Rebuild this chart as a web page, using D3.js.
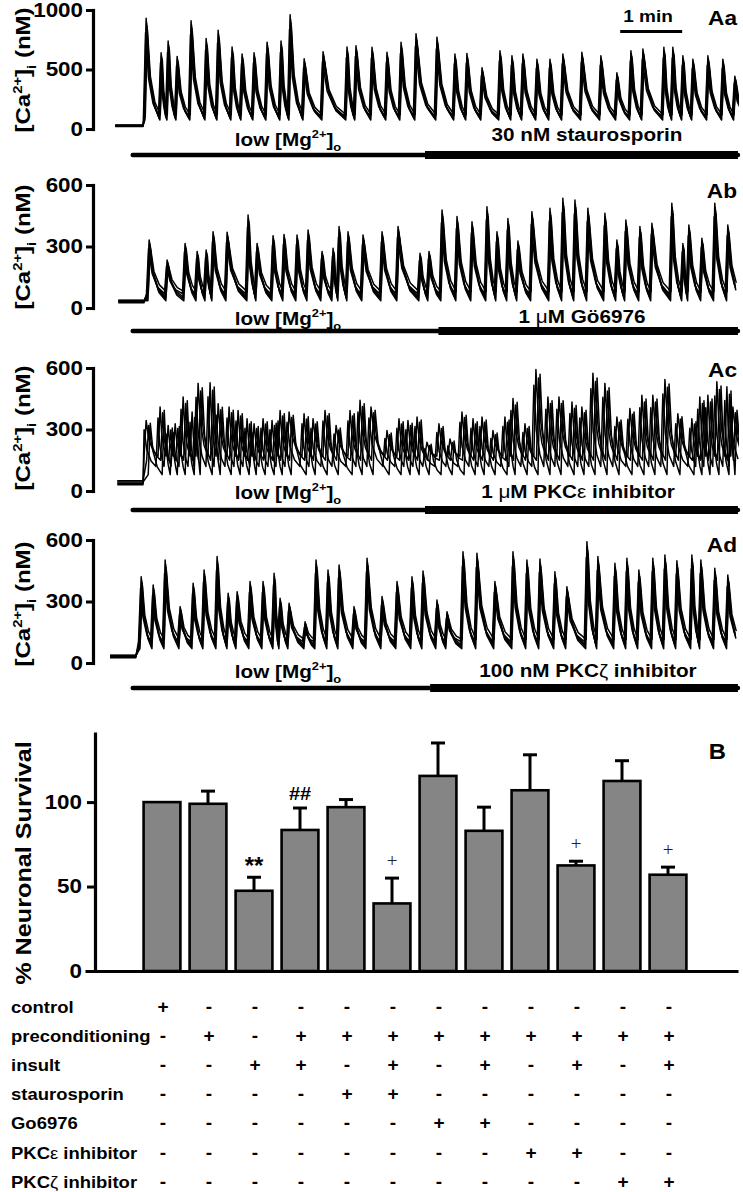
<!DOCTYPE html>
<html><head><meta charset="utf-8">
<script src="https://cdn.jsdelivr.net/npm/d3@7"></script>
<style>
body{margin:0;background:#fff}
svg{display:block}
text{font-family:"Liberation Sans",Arial,sans-serif;font-weight:bold;fill:#000}
</style>
</head><body>
<svg id="c" width="743" height="1192"></svg>
<script>
// ---------------- DATA ----------------
// Panel A traces: peak times (s) and peak [Ca2+]i (nM)
const aaPeakT = [30.0,44.5,51.3,60.0,73.5,88.1,99.7,113.2,122.9,134.5,147.1,160.6,169.4,183.0,201.3,224.5,233.2,248.7,263.2,276.8,291.3,311.6,329.0,340.6,355.2,372.6,384.2,394.8,408.4,421.0,433.5,451.9,470.3,485.8,499.4,511.0,531.3,540.0,549.7,559.4,573.9,588.4,600.0];
const aaPeakV = [930,640,740,610,910,760,830,690,630,640,730,740,960,590,650,690,700,686,644,729,800,772,630,635,515,658,615,630,587,587,630,644,615,473,658,672,686,686,615,587,615,587,444];
const aaTrough = 95, aaBase = 25;

const abPeakT = [32.9,50.3,67.7,79.4,88.1,94.8,108.4,128.7,137.4,152.9,163.5,176.1,186.8,200.3,211.0,216.8,225.5,240.0,258.4,273.9,295.2,303.9,316.5,331.0,345.5,360.0,369.7,380.3,390.0,403.5,421.0,433.5,445.2,457.7,474.2,485.8,494.5,508.1,519.7,539.0,549.7,555.5,568.1,580.6,593.2];
const abPeakV = [332,234,315,276,283,372,369,454,315,353,359,356,380,276,291,397,372,356,372,397,267,276,478,446,421,494,372,437,327,470,486,535,527,486,462,332,429,397,413,511,315,405,340,511,405];
const abTrough = 55, abBase = 30;

const acPeakT = [30.0,43.5,51.3,58.1,65.8,74.5,80.3,91.9,99.7,110.3,119.0,127.7,134.5,143.2,151.9,159.7,168.4,182.9,191.6,203.2,213.9,227.4,237.1,247.7,263.2,274.8,283.5,292.3,301.9,313.5,324.2,335.8,346.5,355.2,365.8,377.4,385.2,396.8,407.4,419.0,429.7,442.3,451.9,462.6,474.2,485.8,498.4,510.0,520.6,532.3,544.8,558.4,566.1,573.9,582.6,592.3,598.1];
const acPeakV = [344,410,320,328,459,385,525,528,426,410,393,352,328,352,344,393,385,377,352,393,320,393,443,410,295,352,344,361,238,328,254,385,352,361,295,361,451,328,593,459,459,434,410,574,525,361,402,467,467,544,377,352,459,467,533,508,410];
const acTrough = 150, acBase = 38;

const adPeakT = [25.2,36.8,48.4,62.9,75.5,86.1,98.7,109.4,118.1,130.6,143.2,153.9,159.7,168.4,183.9,194.5,206.1,216.8,231.3,243.9,258.4,272.9,287.4,298.1,311.6,321.3,336.8,350.3,367.7,385.2,398.7,411.3,425.8,437.4,456.8,467.4,483.9,495.5,507.1,520.6,532.3,543.9,558.4,567.1,580.6,593.2];
const adPeakV = [421,380,502,275,389,454,519,340,348,397,397,438,316,291,201,502,454,478,275,511,324,397,421,449,307,250,543,535,397,543,502,507,445,372,592,519,486,511,454,511,527,499,527,502,462,429];
const adTrough = 90, adBase = 30;

// overlaid cells (per-trace gain, time shift in s, trough offset nM, baseline offset nM)
const cellGain       = [1.00, 0.93, 0.87, 0.96, 0.90];
const cellShift      = [0, 0.8, -0.6, 0.4, 1.2];
const cellTroughOff  = [0, -20, 15, -10, 25];
const cellBaseOff    = [0, 6, -4, 3, 8];
const acCellShift    = [0, 2.5, -2.0, 4.0];
const acCellTroughOff= [20, 0, -30, -70];

// treatment timing (s)
const lowMgStart = 17, traceEnd = 603;
const drugStart = [300, 313, 300, 305];
const panelNames = ["Aa","Ab","Ac","Ad"];
const drugLabels = ["30 nM staurosporin","1 \u03bcM G\u00f66976","1 \u03bcM PKC\u03b5 inhibitor","100 nM PKC\u03b6 inhibitor"];
const scaleBarT = [489, 549];

// Panel B
const groups = ["1","2","3","4","5","6","7","8","9","10","11","12"];
const survival    = [100, 99, 47.5, 83.5, 97, 40, 115.5, 83, 107, 62.5, 112.5, 57];
const survivalErr = [0, 7.5, 8, 13, 4.5, 15, 19.5, 14, 21, 2.5, 12, 4.5];
const sigMarks    = ["", "", "**", "##", "", "+", "", "", "", "+", "", "+"];
const rowLabels = ["control","preconditioning","insult","staurosporin","Go6976","PKC\u03b5 inhibitor","PKC\u03b6 inhibitor"];
const rowSigns = [
  ["+","-","-","-","-","-","-","-","-","-","-","-"],
  ["-","+","-","+","+","+","+","+","+","+","+","+"],
  ["-","-","+","+","-","+","-","+","-","+","-","+"],
  ["-","-","-","-","+","+","-","-","-","-","-","-"],
  ["-","-","-","-","-","-","+","+","-","-","-","-"],
  ["-","-","-","-","-","-","-","-","+","+","-","-"],
  ["-","-","-","-","-","-","-","-","-","-","+","+"]
];

// ---------------- DRAWING ----------------
const svg = d3.select("#c");
const SX = 1.12;

function label(g, x, y, parts, o) {
  o = o || {};
  const fs = o.fs || 18;
  const t = g.append("text")
    .attr("transform", `translate(${x},${y})${o.rotate ? " rotate(-90)" : ""} scale(${o.sx || SX},1)`)
    .attr("text-anchor", o.anchor || "middle")
    .style("font-size", fs + "px");
  if (o.serif) t.style("font-family", '"Liberation Serif","Times New Roman",serif').style("font-weight", "normal").style("fill", "#222");
  let shift = 0;
  parts.forEach(p => {
    const [str, type] = Array.isArray(p) ? p : [p, "n"];
    const s = t.append("tspan").text(str);
    let target = 0;
    if (type === "sup") { s.style("font-size", (fs * 0.62) + "px"); target = -0.42 * fs; }
    else if (type === "sub") { s.style("font-size", (fs * 0.62) + "px"); target = 0.28 * fs; }
    else if (type === "sym") { s.style("font-weight", "normal"); }
    s.attr("dy", target - shift);
    shift = target;
  });
  return t;
}

const xT = d3.scaleLinear().domain([-5, 605]).range([110, 740]);

const panels = [
  {peakT: aaPeakT, peakV: aaPeakV, trough: aaTrough, base: aaBase, start: 0, onset: 27, max: 1000, ticks: [0,500,1000], y0: 129, y1: 10, barY: 155, textY: 146, drugTextY: 141, nameY: 25, labelY: 70, cells: 5},
  {peakT: abPeakT, peakV: abPeakV, trough: abTrough, base: abBase, start: 3, onset: 28, max: 600, ticks: [0,300,600], y0: 308, y1: 185, barY: 331, textY: 325, drugTextY: 323, nameY: 198, labelY: 247, cells: 5},
  {peakT: acPeakT, peakV: acPeakV, trough: acTrough, base: acBase, start: 2, onset: 27, max: 600, ticks: [0,300,600], y0: 491, y1: 368, barY: 510, textY: 499, drugTextY: 498, nameY: 377, labelY: 428, cells: 4, ac: true},
  {peakT: adPeakT, peakV: adPeakV, trough: adTrough, base: adBase, start: -5, onset: 20, max: 600, ticks: [0,300,600], y0: 663, y1: 540, barY: 688, textY: 678, drugTextY: 677, nameY: 552, labelY: 604, cells: 5}
];

svg.append("defs").append("clipPath").attr("id", "clipT")
  .append("rect").attr("x", 105).attr("y", 0).attr("width", 634).attr("height", 1192);

function traceData(P, k) {
  const g = cellGain[k];
  const s = P.ac ? acCellShift[k] : cellShift[k];
  const tr = P.trough + (P.ac ? acCellTroughOff[k] : cellTroughOff[k]);
  const b = P.base + cellBaseOff[k] * (P.ac ? 2 : 1);
  const pts = [[P.start, b], [P.onset, b]];
  const n = P.peakT.length;
  for (let i = 0; i < n; i++) {
    const t = P.peakT[i] + s;
    const p = Math.max(tr + 25, P.peakV[i] * g);
    const next = i < n - 1 ? P.peakT[i + 1] + s : t + 14;
    const gap = next - t;
    pts.push([Math.max(t - 2, P.onset + 0.3), tr]);
    pts.push([t, p]);
    pts.push([t + 0.2 * gap, tr + 0.45 * (p - tr)]);
    pts.push([t + 0.5 * gap, tr + 0.15 * (p - tr)]);
  }
  return pts;
}

panels.forEach((P, pi) => {
  const y = d3.scaleLinear().domain([0, P.max]).range([P.y0, P.y1]);
  const g = svg.append("g");
  // axis
  const ax = g.append("g").attr("transform", "translate(93,0)")
    .call(d3.axisLeft(y).tickValues(P.ticks).tickFormat(d3.format("d")).tickSize(7).tickSizeOuter(0).tickPadding(3));
  ax.select(".domain").attr("stroke", "#000").attr("stroke-width", 3.2).attr("stroke-linecap", "square");
  ax.selectAll(".tick line").attr("stroke", "#000").attr("stroke-width", 3);
  ax.selectAll(".tick text").style("font-size", "20px").style("font-family", '"Liberation Sans",Arial,sans-serif').style("font-weight", "bold")
    .attr("fill", "#000").attr("x", -10 / SX).attr("transform", `scale(${SX},1)`);
  // y label
  label(g, 30, P.labelY, ["[Ca", ["2+", "sup"], "]", ["i", "sub"], " (nM)"], {fs: 20, rotate: true, sx: 1.2});
  // traces
  const line = d3.line().x(d => xT(d[0])).y(d => y(d[1]));
  const tg = g.append("g").attr("clip-path", "url(#clipT)");
  for (let k = 0; k < P.cells; k++) {
    tg.append("path").attr("d", line(traceData(P, k)))
      .attr("fill", "none").attr("stroke", "#000").attr("stroke-width", 1.5).attr("stroke-linejoin", "round");
  }
  // treatment bars
  g.append("line").attr("x1", xT(lowMgStart)).attr("x2", xT(traceEnd)).attr("y1", P.barY).attr("y2", P.barY)
    .attr("stroke", "#000").attr("stroke-width", 4.5).attr("stroke-linecap", "round");
  g.append("line").attr("x1", xT(drugStart[pi])).attr("x2", xT(traceEnd)).attr("y1", P.barY).attr("y2", P.barY)
    .attr("stroke", "#000").attr("stroke-width", 8);
  label(g, 288, P.textY, ["low [Mg", ["2+", "sup"], "]", ["o", "sub"]], {fs: 18.5});
  const dl = drugLabels[pi];
  if (pi === 0) label(g, 587, P.drugTextY, [dl], {fs: 18.5});
  else {
    const parts = [];
    dl.split(/([\u03bc\u03b5\u03b6])/).forEach(s => { if (s) parts.push(/[\u03bc\u03b5\u03b6]/.test(s) ? [s, "sym"] : s); });
    label(g, [0, 582, 578, 588][pi], P.drugTextY, parts, {fs: 18.5});
  }
  label(g, 737, P.nameY, [panelNames[pi]], {fs: 21, anchor: "end", sx: 1.08});
  if (pi === 0) {
    g.append("line").attr("x1", xT(scaleBarT[0])).attr("x2", xT(scaleBarT[1])).attr("y1", 31.5).attr("y2", 31.5)
      .attr("stroke", "#000").attr("stroke-width", 3);
    label(g, 648, 22, ["1 min"], {fs: 17});
  }
});

// ---------------- PANEL B ----------------
const yB = d3.scaleLinear().domain([0, 141.5]).range([971, 732]);
const xB = d3.scaleBand().domain(groups).range([139, 691]).paddingInner(0.2).paddingOuter(0.1);
const gB = svg.append("g");
const axB = gB.append("g").attr("transform", "translate(95,0)")
  .call(d3.axisLeft(yB).tickValues([0, 50, 100]).tickSize(8).tickSizeOuter(0).tickPadding(4));
axB.select(".domain").attr("stroke", "#000").attr("stroke-width", 3.2);
axB.selectAll(".tick line").attr("stroke", "#000").attr("stroke-width", 3);
axB.selectAll(".tick text").style("font-size", "20px").style("font-family", '"Liberation Sans",Arial,sans-serif').style("font-weight", "bold")
  .attr("fill", "#000").attr("x", -13 / SX).attr("transform", `scale(${SX},1)`);
const xBase = d3.scaleLinear().domain([0, 1]).range([85, 738]);
const axX = gB.append("g").attr("transform", `translate(0,${yB(0)})`).call(d3.axisBottom(xBase).tickValues([]).tickSizeOuter(0));
axX.select(".domain").attr("stroke", "#000").attr("stroke-width", 3.2);

label(gB, 31, 863, ["% Neuronal Survival"], {fs: 22.5, rotate: true});
label(gB, 726, 759, ["B"], {fs: 22, anchor: "end", sx: 1.08});

const bw = xB.bandwidth();
groups.forEach((gname, i) => {
  const v = survival[i], e = survivalErr[i];
  const cx = xB(gname) + bw / 2;
  if (e > 0) {
    gB.append("line").attr("x1", cx).attr("x2", cx).attr("y1", yB(v)).attr("y2", yB(v + e)).attr("stroke", "#000").attr("stroke-width", 3);
    gB.append("line").attr("x1", cx - 7).attr("x2", cx + 7).attr("y1", yB(v + e)).attr("y2", yB(v + e)).attr("stroke", "#000").attr("stroke-width", 3);
  }
  gB.append("rect").attr("x", xB(gname)).attr("y", yB(v)).attr("width", bw).attr("height", yB(0) - yB(v))
    .attr("fill", "#858585").attr("stroke", "#000").attr("stroke-width", 2.6);
  const m = sigMarks[i];
  const capY = yB(v + e);
  if (m === "**") label(gB, cx, capY - 3, [m], {fs: 24, sx: 1});
  else if (m === "##") label(gB, cx, capY - 8, [m], {fs: 19, sx: 1.05});
  else if (m === "+") label(gB, cx, capY - 11, [m], {fs: 19, serif: true, sx: 1});
});

// treatment table
rowLabels.forEach((r, ri) => {
  const by = 1013 + ri * 29.1;
  const parts = r.startsWith("PKC") ? ["PKC", [r[3], "sym"], r.slice(4)] : [r];
  label(gB, 11, by, parts, {fs: 16.5, anchor: "start"});
  rowSigns[ri].forEach((s, ci) => {
    const cx = xB(groups[ci]) + bw / 2 + 1;
    gB.append("text").attr("x", cx).attr("y", by).attr("text-anchor", "middle")
      .style("font-size", "19px").text(s);
  });
});
</script>
</body></html>
